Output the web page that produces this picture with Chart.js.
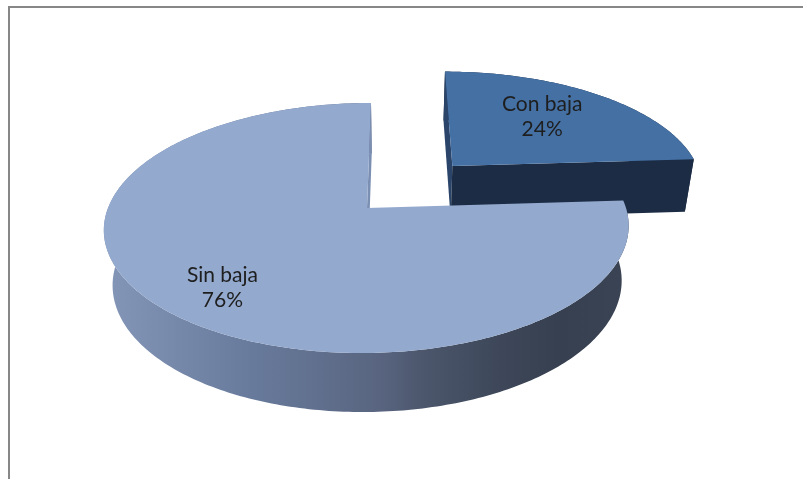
<!DOCTYPE html>
<html>
<head>
<meta charset="utf-8">
<script src="https://cdn.jsdelivr.net/npm/chart.js@4.4.1/dist/chart.umd.min.js"></script>
<style>
  html, body { margin: 0; padding: 0; background: #ffffff; }
  #wrap { position: relative; width: 803px; height: 479px; overflow: hidden; }
  #frame { position: absolute; left: 8px; top: 6px; width: 830px; height: 520px;
           border: 2px solid #878787; box-sizing: border-box; }
  #c { position: absolute; left: 0; top: 0; }
</style>
</head>
<body>
<div id="wrap">
  <div id="frame"></div>
  <canvas id="c" width="803" height="479"></canvas>
</div>
<script>
// Categories and values of the pie
const categories = ['Con baja', 'Sin baja'];
const values = [24, 76];

// Colours: top faces, cut faces, rim
const topColors = ['#4470a4', '#93a9ce'];
const faceColors = ['#1c2c44', '#7b8fb3'];
const edgeColors = ['#2b4469', '#7b8fb3'];

const total = values.reduce((a, b) => a + b, 0);
const percentLabels = values.map(v => Math.round(v / total * 100) + '%');

// Draws the pie as an extruded disc seen in perspective, using the angles Chart.js computed
const pie3d = {
  id: 'pie3d',
  beforeDatasetsDraw(chart, args, o) {
    const ctx = chart.ctx;
    const meta = chart.getDatasetMeta(0);

    // (u, v) on the unit disc, h = 0 top face, h = 1 bottom face
    const P = (u, v, h) => {
      const d = 1 - o.k * v;
      const s = 1 - o.converge * h;
      return {
        x: o.vx + s * (o.px + o.rx * u) / d,
        y: o.cy + o.ry * v / d + h * o.depth / (1 - o.k2 * v)
      };
    };
    const arc = (ox, oy, a0, a1, h, n) => {
      const pts = [];
      for (let i = 0; i <= n; i++) {
        const a = a0 + (a1 - a0) * i / n;
        pts.push(P(ox + Math.cos(a), oy + Math.sin(a), h));
      }
      return pts;
    };
    const area = q => {
      let s = 0;
      for (let i = 0; i < q.length; i++) {
        const p = q[i], r = q[(i + 1) % q.length];
        s += p.x * r.y - r.x * p.y;
      }
      return s;
    };
    const fillPoly = (pts, fill) => {
      ctx.beginPath();
      pts.forEach((p, i) => i ? ctx.lineTo(p.x, p.y) : ctx.moveTo(p.x, p.y));
      ctx.closePath();
      ctx.fillStyle = fill;
      ctx.fill();
    };

    const slices = meta.data.map((el, i) => {
      const a0 = el.startAngle, a1 = el.endAngle, mid = (a0 + a1) / 2;
      const e = o.explode[i] || 0;
      return { i, a0, a1, mid, ox: e * Math.cos(mid), oy: e * Math.sin(mid) };
    }).sort((A, B) => (A.oy + 0.6 * Math.sin(A.mid)) - (B.oy + 0.6 * Math.sin(B.mid)));

    const grad = ctx.createLinearGradient(107, 0, 632, 0);
    grad.addColorStop(0.00, '#8396b7');
    grad.addColorStop(0.29, '#67799a');
    grad.addColorStop(0.52, '#596580');
    grad.addColorStop(0.60, '#4c576d');
    grad.addColorStop(0.75, '#3d4759');
    grad.addColorStop(0.86, '#364050');
    grad.addColorStop(1.00, '#3a4454');

    ctx.save();
    slices.forEach(s => {
      const n = Math.max(24, Math.round((s.a1 - s.a0) * 60));
      const topArc = arc(s.ox, s.oy, s.a0, s.a1, 0, n);
      const botArc = arc(s.ox, s.oy, s.a0, s.a1, 1, n);
      const cT = P(s.ox, s.oy, 0), cB = P(s.ox, s.oy, 1);

      // rim
      fillPoly(topArc.concat(botArc.slice().reverse()), s.i === 1 ? grad : faceColors[s.i]);

      // cut faces that turn toward the viewer
      const startFace = [cT, topArc[0], botArc[0], cB];
      const endFace = [cT, topArc[n], botArc[n], cB];
      if (area(startFace) < 0) fillPoly(startFace, edgeColors[s.i]);
      if (area(endFace) > 0) fillPoly(endFace, s.i === 0 ? faceColors[0] : edgeColors[1]);

      // top face
      fillPoly([cT].concat(topArc), topColors[s.i]);
    });

    // data labels
    ctx.fillStyle = '#1e1e1e';
    ctx.font = o.font;
    ctx.textAlign = 'center';
    ctx.textBaseline = 'middle';
    slices.forEach(s => {
      const a = s.mid + o.labelTurn;
      const r = o.labelRadius[s.i];
      const p = P(s.ox + r * Math.cos(a), s.oy + r * Math.sin(a), 0);
      const lines = [categories[s.i], percentLabels[s.i]];
      lines.forEach((t, j) => ctx.fillText(t, p.x, p.y + (j - (lines.length - 1) / 2) * o.lineHeight));
    });
    ctx.restore();
    return false;
  }
};

new Chart(document.getElementById('c'), {
  type: 'pie',
  data: {
    labels: categories,
    datasets: [{ data: values, backgroundColor: topColors, borderWidth: 0 }]
  },
  options: {
    responsive: false,
    animation: false,
    events: [],
    plugins: {
      legend: { display: false },
      tooltip: { enabled: false },
      pie3d: {
        vx: 396, px: -29, cy: 208, rx: 259, ry: 121.8,
        k: 0.16, k2: 0.08, depth: 54.3, converge: 0.03,
        explode: [0.5, 0],
        labelRadius: [0.64, 0.77], labelTurn: -0.056,
        font: '21px Lato, "Open Sans", sans-serif', lineHeight: 25
      }
    }
  },
  plugins: [pie3d]
});
</script>
</body>
</html>
